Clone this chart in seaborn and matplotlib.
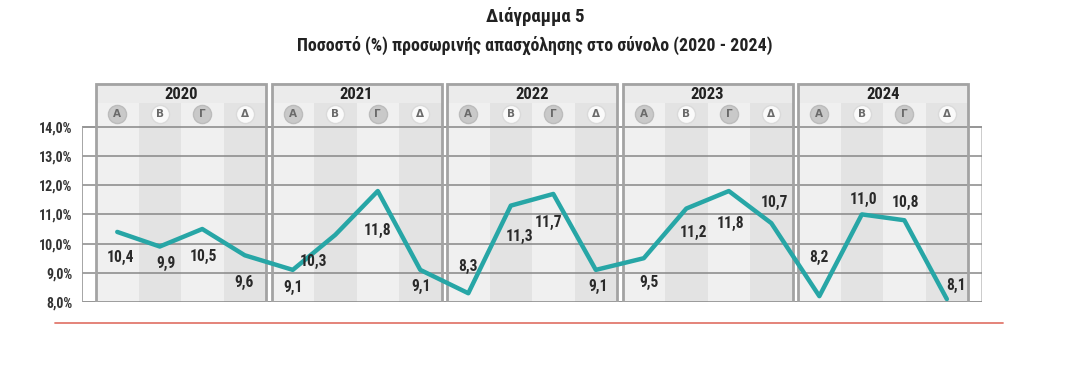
import matplotlib
matplotlib.use("Agg")
import matplotlib.pyplot as plt
import matplotlib.patches as mpatches
import matplotlib.font_manager as fm
from matplotlib.lines import Line2D
import seaborn as sns
import pandas as pd

# ---- data ----
years = ["2020", "2021", "2022", "2023", "2024"]
quarters = ["Α", "Β", "Γ", "Δ"]
values = [10.4, 9.9, 10.5, 9.6,
          9.1, 10.3, 11.8, 9.1,
          8.3, 11.3, 11.7, 9.1,
          9.5, 11.2, 11.8, 10.7,
          8.2, 11.0, 10.8, 8.1]
value_labels = ["10,4", "9,9", "10,5", "9,6",
                "9,1", "10,3", "11,8", "9,1",
                "8,3", "11,3", "11,7", "9,1",
                "9,5", "11,2", "11,8", "10,7",
                "8,2", "11,0", "10,8", "8,1"]
yticks = [8, 9, 10, 11, 12, 13, 14]
ytick_labels = ["8,0%", "9,0%", "10,0%", "11,0%", "12,0%", "13,0%", "14,0%"]
title_line1 = "Διάγραμμα 5"
title_line2 = "Ποσοστό (%) προσωρινής απασχόλησης στο σύνολο (2020 - 2024)"

# label offsets in pixels (dx right, dy down)
label_offsets = [(3, 26), (6, 17), (1, 27), (-1, 27),
                 (0, 18), (-22, 27), (0, 39), (1, 17),
                 (0, -27), (9, 31), (-5, 29), (2, 17),
                 (5, 24), (7, 24), (2, 32), (3, -21),
                 (0, -39), (2, -15), (1, -18), (9, -14)]

sns.set_style("white")

# pick a condensed font if one is installed
cond_family = None
cond_stretch = 'normal'
names = {f.name for f in fm.fontManager.ttflist}
for nm in ['Liberation Sans Narrow', 'Roboto Condensed', 'Open Sans Condensed',
           'Noto Sans Condensed', 'DejaVu Sans Condensed']:
    if nm in names:
        cond_family = nm
        break
if cond_family is None:
    for pref in ['DejaVu Sans', 'Noto Sans', 'Open Sans', 'Roboto']:
        hits = [f for f in fm.fontManager.ttflist
                if f.name == pref and str(f.stretch) in ('condensed', 'semi-condensed', '75', '87.5', 'extra-condensed')]
        if hits:
            cond_family = pref
            cond_stretch = 'condensed'
            break
if cond_family is None:
    cond_family = 'Roboto' if 'Roboto' in names else 'DejaVu Sans'
    scale = 0.82 if cond_family == 'Roboto' else 0.78
else:
    scale = 1.0

plt.rcParams['font.family'] = [cond_family, 'DejaVu Sans']
plt.rcParams['font.stretch'] = cond_stretch
FS = dict(fontstretch=cond_stretch)

GAP = 0.13
xpos = []
for yi in range(len(years)):
    for qi in range(4):
        xpos.append(yi * (4 + GAP) + qi + 0.5)
df = pd.DataFrame({"x": xpos, "v": values})

fig = plt.figure(figsize=(10.71, 3.77), dpi=100)
ax = fig.add_axes([82 / 1071, 1 - 302 / 377, 900 / 1071, 219 / 377])
xmin = -14 / 42.5
xmax = xmin + 900 / 42.5
ax.set_xlim(xmin, xmax)
ax.set_ylim(8, 15.5)
for s in ax.spines.values():
    s.set_visible(False)
ax.set_xticks([])
ax.set_yticks(yticks)
ax.set_yticklabels(ytick_labels, fontsize=10 * scale, fontweight='bold',
                   color='#333333', **FS)
ax.tick_params(axis='y', length=0, pad=7)

ax.add_patch(mpatches.Rectangle((xmin, 8), xmax - xmin, 6, facecolor='white',
                                edgecolor='#c4c4c4', lw=1.2, zorder=0))

LIGHT = '#f0f0f0'
DARK = '#e3e3e3'
HEAD = '#ebebeb'
for yi, yr in enumerate(years):
    x0 = yi * (4 + GAP)
    for qi in range(4):
        ax.add_patch(mpatches.Rectangle((x0 + qi, 8), 1, 14.82 - 8,
                                        facecolor=LIGHT if qi % 2 == 0 else DARK,
                                        edgecolor='none', zorder=1))
    ax.add_patch(mpatches.Rectangle((x0, 14.82), 4, 15.5 - 14.82,
                                    facecolor=HEAD, edgecolor='none', zorder=1))
    ax.text(x0 + 2, 15.1, yr, ha='center', va='center', fontsize=12 * scale,
            fontweight='bold', color='#222222', zorder=6, **FS)
    for qi, q in enumerate(quarters):
        dark = qi % 2 == 0
        ax.scatter([x0 + qi + 0.5], [14.44], s=170,
                   color='#c9c9c9' if dark else '#fafafa',
                   edgecolors='#bcbcbc' if dark else '#dadada', linewidths=1,
                   zorder=6)
        ax.text(x0 + qi + 0.5, 14.43, q, ha='center', va='center', fontsize=7.5,
                fontweight='bold', color='#6a6a6a', zorder=7,
                family=['DejaVu Sans'])

for yv in yticks:
    ax.plot([xmin, xmax], [yv, yv], color='#878787', lw=1.1, zorder=2,
            solid_capstyle='butt')
ax.plot([xmin, xmin], [8, 14], color='#a0a0a0', lw=1.2, zorder=2)

for yi in range(len(years)):
    x0 = yi * (4 + GAP)
    ax.add_patch(mpatches.Rectangle((x0, 8 - 0.03), 4, 15.5 - 8, facecolor='none',
                                    edgecolor='#a3a3a3', lw=2, zorder=3))

sns.lineplot(data=df, x="x", y="v", ax=ax, color='#27a6a6', lw=3.2, zorder=5,
             legend=False)
ax.set_xlabel("")
ax.set_ylabel("")

for x, v, lab, (dx, dy) in zip(xpos, values, value_labels, label_offsets):
    ax.annotate(lab, (x, v), xytext=(dx, -dy), textcoords='offset pixels',
                ha='center', va='center', fontsize=11.2 * scale, fontweight='bold',
                color='#2a2a2a', zorder=8, **FS)

fig.text(535 / 1071, 1 - 17 / 377, title_line1, ha='center', va='center',
         fontsize=13.6 * scale, fontweight='bold', color='#222222', **FS)
fig.text(535 / 1071, 1 - 45 / 377, title_line2, ha='center', va='center',
         fontsize=12.9 * scale, fontweight='bold', color='#222222', **FS)

fig.add_artist(Line2D([55 / 1071, 1003 / 1071], [1 - 323 / 377, 1 - 323 / 377],
                      color='#e27a6e', lw=1.3, transform=fig.transFigure))

fig.savefig("out.png", dpi=100)
